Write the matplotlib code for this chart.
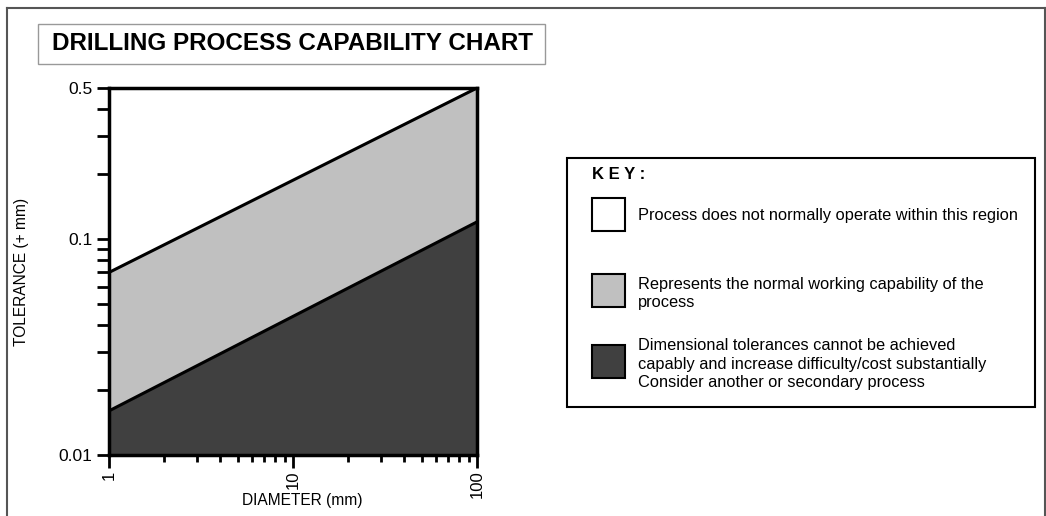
import matplotlib
matplotlib.use("Agg")
import matplotlib.pyplot as plt
from matplotlib.patches import Rectangle
from matplotlib.lines import Line2D
from matplotlib.ticker import FixedLocator, FixedFormatter, NullFormatter

plt.rcParams['font.family'] = ['Liberation Sans', 'DejaVu Sans']

# data
diameter = [1, 100]
upper_limit = [0.07, 0.5]     # top of the normal capability band
lower_limit = [0.016, 0.12]   # bottom of the normal capability band
y_floor = 0.01
y_ceil = 0.5

x_ticks = [1, 10, 100]
x_labels = ['1', '10', '100']
y_ticks = [0.01, 0.1, 0.5]
y_labels = ['0.01', '0.1', '0.5']
y_minor = [0.02, 0.03, 0.04, 0.05, 0.06, 0.07, 0.08, 0.09, 0.2, 0.3, 0.4]
x_minor = [2, 3, 4, 5, 6, 7, 8, 9, 20, 30, 40, 50, 60, 70, 80, 90]

key_labels = [
    'Process does not normally operate within this region',
    'Represents the normal working capability of the\nprocess',
    'Dimensional tolerances cannot be achieved\ncapably and increase difficulty/cost substantially\nConsider another or secondary process',
]
key_colors = ['white', '#c0c0c0', '#404040']

W, H = 1046, 516
fig = plt.figure(figsize=(W / 100, H / 100), dpi=100)

def fx(px):
    return px / W

def fy(py):
    return 1 - py / H

# outer frame (left, top, right only)
fig.add_artist(Line2D([fx(7), fx(7)], [0, fy(8)], color='#555555', lw=1.5))
fig.add_artist(Line2D([fx(7), fx(1045)], [fy(8), fy(8)], color='#555555', lw=1.5))
fig.add_artist(Line2D([fx(1045), fx(1045)], [0, fy(8)], color='#555555', lw=1.5))

# title box
fig.add_artist(Rectangle((fx(38), fy(64)), fx(545) - fx(38), fy(24) - fy(64),
                         facecolor='white', edgecolor='#999999', lw=1))
fig.text(fx(292), fy(44), 'DRILLING PROCESS CAPABILITY CHART', ha='center', va='center',
         fontsize=17.5, fontweight='bold')

# main chart
ax = fig.add_axes([fx(109), fy(455), fx(477) - fx(109), fy(88) - fy(455)])
ax.set_xscale('log')
ax.set_yscale('log')
ax.fill_between(diameter, [y_floor, y_floor], lower_limit, color=key_colors[2], lw=0)
ax.fill_between(diameter, lower_limit, upper_limit, color=key_colors[1], lw=0)
ax.plot(diameter, lower_limit, color='black', lw=2.2)
ax.plot(diameter, upper_limit, color='black', lw=2.2)
ax.set_xlim(1, 100)
ax.set_ylim(y_floor, y_ceil)

for s in ax.spines.values():
    s.set_linewidth(2.5)

ax.xaxis.set_major_locator(FixedLocator(x_ticks))
ax.xaxis.set_major_formatter(FixedFormatter(x_labels))
ax.xaxis.set_minor_locator(FixedLocator(x_minor))
ax.xaxis.set_minor_formatter(NullFormatter())
ax.yaxis.set_major_locator(FixedLocator(y_ticks))
ax.yaxis.set_major_formatter(FixedFormatter(y_labels))
ax.yaxis.set_minor_locator(FixedLocator(y_minor))
ax.yaxis.set_minor_formatter(NullFormatter())

ax.tick_params(which='both', direction='out', width=2, labelsize=12.5)
ax.tick_params(axis='y', which='both', length=9, pad=3)
ax.tick_params(axis='x', which='major', length=9, labelrotation=90, pad=2,
               labelsize=12)
ax.tick_params(axis='x', which='minor', length=5)

ax.set_xlabel('DIAMETER (mm)', fontsize=11.2, va='center')
ax.set_ylabel('TOLERANCE (+ mm)', fontsize=11.2, va='center')
ax.xaxis.set_label_coords(0.525, -0.123)
ax.yaxis.set_label_coords(-0.237, 0.5)

# key box
fig.add_artist(Rectangle((fx(567), fy(407)), fx(1035) - fx(567), fy(158) - fy(407),
                         facecolor='white', edgecolor='black', lw=1.5))
fig.text(fx(592), fy(175), 'K E Y :', ha='left', va='center', fontsize=12,
         fontweight='bold')
square_tops = [198, 274, 345]
text_y = [215, 293, 364]
for top, ty, lab, col in zip(square_tops, text_y, key_labels, key_colors):
    fig.add_artist(Rectangle((fx(592), fy(top + 33)), fx(33), 33 / H,
                             facecolor=col, edgecolor='black', lw=1.5))
    fig.text(fx(638), fy(ty), lab, ha='left', va='center', fontsize=11.8,
             linespacing=1.25)

fig.savefig('out.png', dpi=100)
